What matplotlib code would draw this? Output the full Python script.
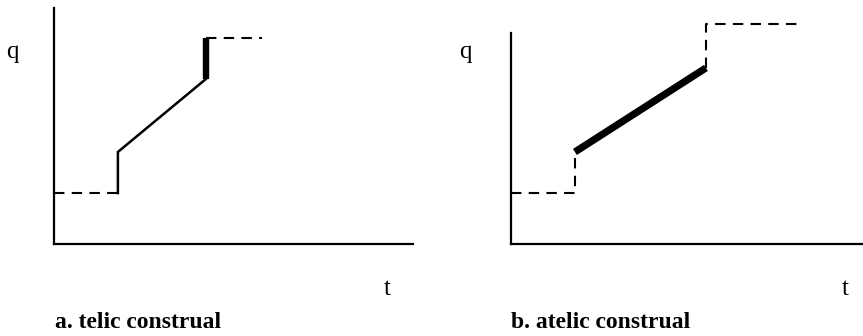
import matplotlib
matplotlib.use("Agg")
import matplotlib.pyplot as plt

W, H = 863, 336

# ---- data (t, q) in panel units ----
# panel a: telic construal
a_pre_t = [0, 17.8]
a_pre_q = [21.6, 21.6]
a_path_t = [17.8, 17.8, 42.3]
a_path_q = [21.6, 39.0, 69.9]
a_end_t = [42.3, 42.3]
a_end_q = [69.9, 87.3]
a_post_t = [42.3, 57.9]
a_post_q = [87.3, 87.3]

# panel b: atelic construal
b_pre_t = [0, 17.8, 17.8]
b_pre_q = [21.6, 21.6, 39.0]
b_path_t = [17.8, 54.3]
b_path_q = [39.0, 74.6]
b_post_t = [54.3, 54.3, 79.7]
b_post_q = [74.6, 93.2, 93.2]

titles = ["a. telic construal", "b. atelic construal"]
ylab = "q"
xlab = "t"

fig = plt.figure(figsize=(W / 100, H / 100), dpi=100)

def px_axes(x0, y_top, x1, y_bot):
    return fig.add_axes([x0 / W, 1 - y_bot / H, (x1 - x0) / W, (y_bot - y_top) / H])

dash = (0, (5, 3.5))
thin = 1.5
axlw = 1.6

def style(ax, xmax, ymax):
    ax.set_xlim(0, xmax)
    ax.set_ylim(0, ymax)
    for s in ["top", "right"]:
        ax.spines[s].set_visible(False)
    for s in ["left", "bottom"]:
        ax.spines[s].set_linewidth(axlw)
    ax.set_xticks([])
    ax.set_yticks([])
    ax.patch.set_alpha(0)

# panel a
axa = px_axes(54, 8, 413, 244)
style(axa, 100, 100)
axa.plot(a_pre_t, a_pre_q, color="black", lw=thin, linestyle=dash, clip_on=False)
axa.plot(a_path_t, a_path_q, color="black", lw=thin + 0.3, solid_joinstyle="miter", clip_on=False)
axa.plot(a_end_t, a_end_q, color="black", lw=4.6, solid_capstyle="butt", clip_on=False)
axa.plot(a_post_t, a_post_q, color="black", lw=thin, linestyle=dash, clip_on=False)

# panel b
axb = px_axes(511, 33, 863, 244)
style(axb, 352 / 3.59, 211 / 2.36)
axb.plot(b_pre_t, b_pre_q, color="black", lw=thin, linestyle=dash, clip_on=False)
axb.plot(b_path_t, b_path_q, color="black", lw=5.2, solid_capstyle="butt", clip_on=False)
axb.plot(b_post_t, b_post_q, color="black", lw=thin, linestyle=dash, clip_on=False)

font = "Liberation Serif"
def ftext(x, y, s, **kw):
    fig.text(x / W, 1 - y / H, s, family=font, **kw)

ftext(12, 52, ylab, fontsize=18, ha="center", va="center")
ftext(387, 289, xlab, fontsize=18, ha="center", va="center")
ftext(55, 322, titles[0], fontsize=17, fontweight="bold", ha="left", va="center")

ftext(465, 52, ylab, fontsize=18, ha="center", va="center")
ftext(845, 289, xlab, fontsize=18, ha="center", va="center")
ftext(511, 322, titles[1], fontsize=17, fontweight="bold", ha="left", va="center")

fig.savefig("out.png", dpi=100)
